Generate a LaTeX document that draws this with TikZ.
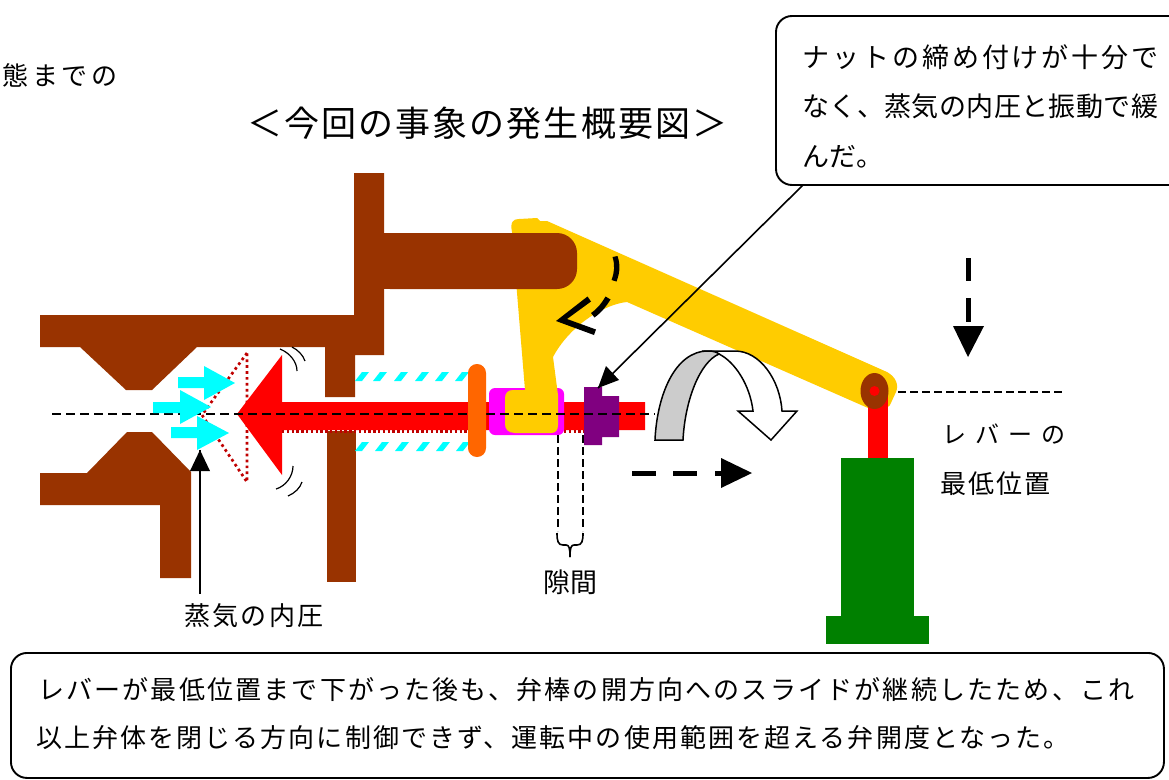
\documentclass[tikz,border=0pt]{standalone}
\usepackage{fontspec}
\newfontfamily\jp{Noto Sans CJK JP}
\newcommand{\jtext}[2]{\fontsize{#1}{#1}\selectfont\addfontfeature{LetterSpace=#2}}
\definecolor{brownm}{RGB}{153,51,0}
\definecolor{levery}{RGB}{255,204,0}
\definecolor{darkr}{RGB}{192,0,0}
\definecolor{orangem}{RGB}{255,102,0}
\definecolor{greenm}{RGB}{0,128,0}
\definecolor{purplem}{RGB}{128,0,128}
\definecolor{cyanm}{RGB}{0,255,255}
\definecolor{magentam}{RGB}{255,0,255}
\definecolor{redm}{RGB}{255,0,0}
\definecolor{graym}{RGB}{204,204,204}
\tikzset{
 lbl/.style={inner sep=0pt,font=\jp,text=black,anchor=west},
 brownpart/.style={fill=brownm,draw=none},
 cyanarrow/.style={fill=cyanm,draw=none},
 centerline/.style={draw=black,line width=1.3pt,dash pattern=on 9pt off 5pt},
 gapline/.style={draw=black,line width=1.2pt,dash pattern=on 8pt off 4pt},
 thinarc/.style={draw=black,line width=1.2pt},
 frame/.style={draw=black,line width=1.9pt,fill=white,rounded corners=16pt}
}
\begin{document}
\begin{tikzpicture}[x=1pt,y=-1pt]
\useasboundingbox (0,0) rectangle (1169,779);
\fill[white] (0,0) rectangle (1169,779);
% callout + leader
\draw[frame] (1185,185) -- (776,185) -- (776,16) -- (1185,16);
\coordinate (calloutfoot) at (803,185);
\coordinate (nuttop) at (598,388);
% brown body
\path[brownpart] (40,315) -- (354,315) -- (354,173) -- (384,173) -- (384,355) -- (355,355) -- (355,397) -- (325,397) -- (325,347) -- (197,347) -- (152,390) -- (126,390) -- (80,347) -- (40,347) -- cycle;
\path[brownpart] (40,473) -- (87,473) -- (127,432) -- (152,432) -- (191,472) -- (191,578) -- (160,578) -- (160,505) -- (40,505) -- cycle;
\path[brownpart] (327,431) rectangle (356,582);
% dotted ghost of valve
\draw[darkr,line width=2.7pt,dash pattern=on 2.7pt off 3.2pt] (247,353) -- (202,415) -- (247,482) -- cycle;
% rod and valve head
\fill[redm] (237,414) -- (282,355) -- (282,402) -- (645,402) -- (645,430) -- (282,430) -- (282,475) -- cycle;
\draw[darkr,line width=2.4pt,dash pattern=on 2.4pt off 2.4pt] (282,431.5) -- (468,431.5);
\draw[darkr,line width=2.4pt,dash pattern=on 2.4pt off 2.4pt] (564,431.5) -- (584,431.5);
% cyan spring hatch
\foreach \x in {362,380,401,422,442,462}{\fill[cyanm] (\x-7,381) -- (\x,381) -- (\x+7,372) -- (\x,372) -- cycle;}
\foreach \x in {362,382,402,423,443,463}{\fill[cyanm] (\x-7,451) -- (\x,451) -- (\x+7,442) -- (\x,442) -- cycle;}
% lever
\fill[magentam,rounded corners=6pt] (489,388) rectangle (564,435);
\fill[levery] (512,232) .. controls (510,222) and (513,219) .. (519,219) -- (537,218) -- (540,221) -- (547,221) -- (887,372) .. controls (896,377) and (899,385) .. (896,392) -- (890,405) .. controls (884,412) and (876,412) .. (868,408) -- (627,302) .. controls (605,304) and (570,325) .. (553,357) -- (558,395) -- (558,425) .. controls (558,430) and (556,433) .. (551,433) -- (515,433) .. controls (508,433) and (505,429) .. (505,424) -- (505,398) .. controls (505,393) and (508,390) .. (513,390) -- (525,390) -- cycle;
% brown arm
\fill[brownm,rounded corners=20pt] (370,233) -- (577,233) -- (577,289) -- (370,289) -- cycle;
\fill[brownm] (384,233) rectangle (420,289);
% nut
\fill[purplem] (584,387) -- (602,387) -- (602,396) -- (619,396) -- (619,437) -- (602,437) -- (602,445) -- (584,445) -- cycle;
% centre line
\draw[centerline] (52,414) -- (655,414);
\draw[centerline,dash pattern=on 8pt off 4pt] (898,392) -- (1065,392);
% orange collar
\fill[orangem,rounded corners=8.9pt] (468,364) rectangle (486,457);
% cyan steam arrows
\path[cyanarrow] (178,377) -- (204,377) -- (204,366) -- (235,383) -- (204,400) -- (204,388) -- (178,388) -- cycle;
\path[cyanarrow] (153,402) -- (180,402) -- (180,390) -- (211,407) -- (180,424) -- (180,413) -- (153,413) -- cycle;
\path[cyanarrow] (171,427) -- (197,427) -- (197,416) -- (229,433) -- (197,450) -- (197,438) -- (171,438) -- cycle;
% vibration arcs
\draw[thinarc] (280,349) .. controls (290,353) and (297,362) .. (297,371);
\draw[thinarc] (292,347) .. controls (298,350) and (303,355) .. (305,361);
\draw[thinarc] (276,489) .. controls (286,486) and (293,476) .. (293,466);
\draw[thinarc] (288,496) .. controls (295,493) and (300,488) .. (302,482);
% pushrod, pivot, actuator
\fill[redm] (868,391) rectangle (888,458);
\fill[brownm] (874.5,391) ellipse (14pt and 18pt);
\fill[redm] (874.5,391) circle (5pt);
\fill[greenm] (841,458) rectangle (914,616);
\fill[greenm] (826,616) rectangle (929,644);
% gap markers
\draw[gapline] (558,435) -- (558,531);
\draw[gapline] (583,435) -- (583,531);
\draw[black,line width=1.6pt] (557,533) .. controls (557,541) and (558,545) .. (563,545) -- (566,545) .. controls (569,545) and (570,548) .. (570,557);
\draw[black,line width=1.6pt] (583,533) .. controls (583,541) and (582,545) .. (577,545) -- (574,545) .. controls (571,545) and (570,548) .. (570,557);
% rotation arrow
\draw[black,line width=1.5pt,fill=white] (702,351) -- (735,351) .. controls (760,351) and (780,380) .. (782,411) -- (797,411) -- (771,440) -- (738,411) -- (753,411) .. controls (750,385) and (735,362) .. (719,354) -- cycle;
\draw[black,line width=1.5pt,fill=graym] (655,440) .. controls (657,395) and (675,351) .. (708,351) .. controls (713,351) and (717,352) .. (719,354) .. controls (700,362) and (685,400) .. (683,440) -- cycle;
% motion arrows
\fill[black] (632,470.5) rectangle (656,476);
\fill[black] (673,470.5) rectangle (697,476);
\fill[black] (715,470.5) rectangle (722,476);
\fill[black] (721,458) -- (752,473) -- (721,488) -- cycle;
\fill[black] (965.5,258) rectangle (971,281);
\fill[black] (965.5,298) rectangle (971,322);
\fill[black] (953,326) -- (984,326) -- (968,357) -- cycle;
% lever motion
\fill[black] (612.5,257) .. controls (615,265) and (614.5,272) .. (611.5,280) -- (616.5,281.5) .. controls (620,272) and (620.5,265) .. (617.5,256) -- cycle;
\fill[black] (605.5,296.5) .. controls (601.5,303.5) and (597.5,308.5) .. (591,313) -- (594.5,317.5) .. controls (602,312) and (606.5,306) .. (610.5,299.5) -- cycle;
\fill[black] (587.5,296.5) -- (591,301.5) -- (567,319) -- (596,329.5) -- (594,335) -- (556,321) -- cycle;
% texts
\node[lbl] (partial) at (2,75) {\jp\jtext{26}{15}態までの};
\node[lbl] (title) at (247,123) {\jp\jtext{35}{6}＜今回の事象の発生概要図＞};
\node[lbl] (co1) at (802,57) {\jp\jtext{27}{11}ナットの締め付けが十分で};
\node[lbl] (co2) at (802,106) {\jp\jtext{27}{1.5}なく、蒸気の内圧と振動で緩};
\node[lbl] (co3) at (802,157) {\jp\jtext{27}{1.5}んだ。};
\node[lbl] (steam) at (184,616) {\jp\jtext{26}{9}蒸気の内圧};
\node[lbl] (gap) at (543,582) {\jp\jtext{27}{1}隙間};
\node[lbl] (lv1) at (942,434) {\jp\jtext{24}{38}レバーの};
\node[lbl] (lv2) at (940,484) {\jp\jtext{26}{8.5}最低位置};
% connectors
\coordinate (steamtail) at (200,594);
\coordinate (steamtip) at (200,450);
\draw[black,line width=1.6pt] (steamtail) -- (steamtip);
\fill[black] (steamtip) -- (210,471) -- (190,471) -- cycle;
\draw[black,line width=1.6pt] (calloutfoot) -- (nuttop);
\fill[black] (nuttop) -- (619,380) -- (606,366) -- cycle;
% bottom box
\node[draw=black,line width=1.9pt,rounded corners=16pt,minimum width=1153pt,minimum height=125pt,inner sep=0pt,anchor=north west] (note) at (10,652) {};
\node[lbl] (n1) at (38,690) {\jp\jtext{26}{8.4}レバーが最低位置まで下がった後も、弁棒の開方向へのスライドが継続したため、これ};
\node[lbl] (n2) at (36,738) {\jp\jtext{26}{8}以上弁体を閉じる方向に制御できず、運転中の使用範囲を超える弁開度となった。};
\end{tikzpicture}
\end{document}
